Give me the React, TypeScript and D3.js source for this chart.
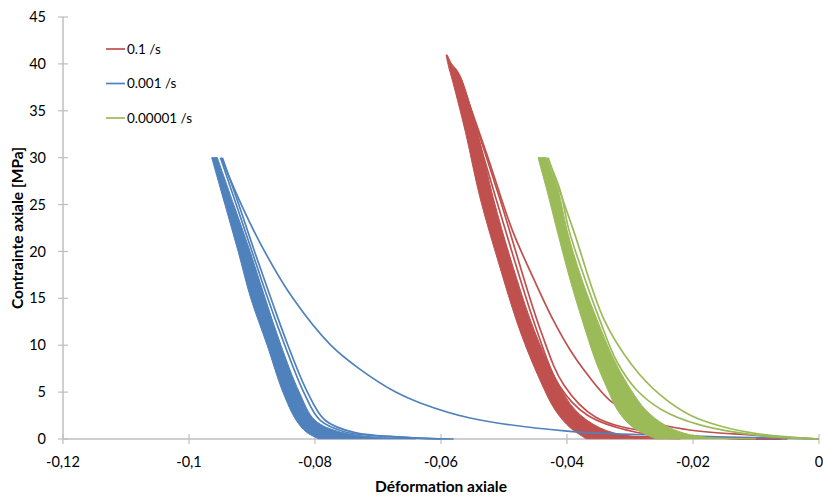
import React from "react";
import * as d3 from "d3";

// ---------- data (strain, stress in MPa) ----------
const xTicks = [-0.12, -0.1, -0.08, -0.06, -0.04, -0.02, 0];
const xTickLabels = ["-0,12", "-0,1", "-0,08", "-0,06", "-0,04", "-0,02", "0"];
const yTicks = [0, 5, 10, 15, 20, 25, 30, 35, 40, 45];
const yTickLabels = ["0", "5", "10", "15", "20", "25", "30", "35", "40", "45"];

const seriesNames = ["0.1 /s", "0.001 /s", "0.00001 /s"];
const seriesColors = ["#C0504D", "#4F81BD", "#9BBB59"];

// band of repeated cycles: [stress, left strain, right strain]
const redBand: [number, number, number][] = [
  [40.95, -0.0592, -0.059],
  [40.0, -0.0589, -0.0583],
  [39.45, -0.0587, -0.0576],
  [38.5, -0.0583, -0.0568],
  [32.95, -0.0562, -0.0543],
  [25.7, -0.0538, -0.0517],
  [19.1, -0.051, -0.0489],
  [11.6, -0.0475, -0.0452],
  [6.3, -0.0443, -0.0417],
  [3.1, -0.0419, -0.0387],
  [1.2, -0.0395, -0.0348],
  [0.3, -0.0376, -0.03],
  [0.03, -0.037, -0.022],
];
const redFirst: [number, number][] = [
  [-0.0567, 38.0], [-0.0527, 30.3], [-0.0487, 22.3], [-0.0452, 16.95], [-0.0422, 12.7],
  [-0.0395, 9.49], [-0.0373, 7.36], [-0.0329, 3.95], [-0.0276, 2.03], [-0.0205, 0.96],
  [-0.011, 0.43], [0, 0],
];
const redLineA: [number, number][] = [
  [-0.0568, 38.3], [-0.0513, 25.7], [-0.0448, 11.6], [-0.0413, 5.76], [-0.0368, 2.56],
  [-0.0292, 0.75], [-0.0195, 0.2], [-0.0062, 0.0],
];
const redLineB: [number, number][] = [
  [-0.0567, 38.1], [-0.0507, 25.7], [-0.0442, 11.6], [-0.0405, 5.76], [-0.0355, 2.35],
  [-0.0262, 0.64], [-0.0162, 0.12], [-0.005, 0.0],
];
const redTail: [number, number][] = [
  [-0.0372, 0.9], [-0.033, 0.45], [-0.026, 0.2], [-0.016, 0.08], [-0.006, 0.02],
];

const blueBand: [number, number, number][] = [
  [30, -0.0964, -0.0955],
  [25, -0.0943, -0.0929],
  [20, -0.0922, -0.0903],
  [15, -0.0902, -0.0879],
  [10, -0.0876, -0.0854],
  [5, -0.0851, -0.0825],
  [2, -0.083, -0.08],
  [0.75, -0.0814, -0.076],
  [0.2, -0.08, -0.0705],
  [0.03, -0.0795, -0.064],
];
const blueFirst: [number, number][] = [
  [-0.0949, 30.0], [-0.0917, 25.0], [-0.088, 20.0], [-0.0835, 15.0], [-0.0775, 10.0],
  [-0.073, 7.5], [-0.0672, 5.0], [-0.0633, 3.84], [-0.0554, 2.24], [-0.04, 0.85],
  [-0.0263, 0.43], [0, 0],
];
const blueLineA: [number, number][] = [
  [-0.095, 30], [-0.0925, 25], [-0.09, 20], [-0.0875, 15], [-0.0848, 10], [-0.0818, 5],
  [-0.0792, 2], [-0.0752, 0.75], [-0.0665, 0.2], [-0.0602, 0],
];
const blueLineB: [number, number][] = [
  [-0.0947, 30], [-0.0921, 25], [-0.0896, 20], [-0.087, 15], [-0.0843, 10], [-0.0812, 5],
  [-0.0784, 2], [-0.0738, 0.7], [-0.065, 0.15], [-0.058, 0],
];

const greenBand: [number, number, number][] = [
  [30, -0.0446, -0.0433],
  [26.55, -0.0432, -0.0414],
  [22.3, -0.0416, -0.04],
  [16.95, -0.0395, -0.0376],
  [12.7, -0.0376, -0.0352],
  [8.4, -0.0355, -0.0325],
  [5.2, -0.0335, -0.0298],
  [3.1, -0.032, -0.0275],
  [1.5, -0.03, -0.0245],
  [0.64, -0.028, -0.0215],
  [0.2, -0.0265, -0.018],
  [0.03, -0.026, -0.01],
];
const greenFirst: [number, number][] = [
  [-0.043, 30], [-0.039, 22.3], [-0.0341, 12.7], [-0.0297, 7.9], [-0.0252, 4.7],
  [-0.0205, 2.56], [-0.0157, 1.39], [-0.0094, 0.53], [0, 0],
];
const greenLine: [number, number][] = [
  [-0.0432, 30], [-0.0411, 26.55], [-0.0397, 22.3], [-0.0371, 16.95], [-0.0348, 12.7],
  [-0.0322, 8.4], [-0.0289, 5.2], [-0.0249, 3.1], [-0.0189, 1.5], [-0.0094, 0.37], [0, 0],
];

// ---------- layout ----------
const W = 823;
const H = 498;
const left = 63, right = 819, top = 17, bottom = 439;

export default function App() {
  const x = d3.scaleLinear().domain([-0.12, 0]).range([left, right]);
  const y = d3.scaleLinear().domain([0, 45]).range([bottom, top]);

  const line = d3
    .line<[number, number]>()
    .x((d) => x(d[0]))
    .y((d) => y(d[1]))
    .curve(d3.curveCatmullRom.alpha(0.5));
  const area = d3
    .area<[number, number, number]>()
    .y((d) => y(d[0]))
    .x0((d) => x(d[1]))
    .x1((d) => x(d[2]))
    .curve(d3.curveCatmullRom.alpha(0.5));

  const series = [
    { band: redBand, lines: [redFirst, redLineA, redLineB, redTail], color: seriesColors[0] },
    { band: blueBand, lines: [blueFirst, blueLineA, blueLineB], color: seriesColors[1] },
    { band: greenBand, lines: [greenFirst, greenLine], color: seriesColors[2] },
  ];

  const font = "Lato, 'Open Sans', 'Liberation Sans', sans-serif";
  const axisColor = "#BFBFBF";

  return (
    <svg
      width={W}
      height={H}
      style={{ position: "absolute", left: 0, top: 0, background: "#fff" }}
      fontFamily={font}
    >
      {/* axes */}
      <line x1={left} x2={left} y1={top} y2={bottom} stroke={axisColor} strokeWidth={1.5} />
      <line x1={left} x2={right} y1={bottom} y2={bottom} stroke={axisColor} strokeWidth={1.5} />
      {yTicks.map((t, i) => (
        <g key={"y" + t}>
          <line x1={left - 5} x2={left + 5} y1={y(t)} y2={y(t)} stroke={axisColor} strokeWidth={1.2} />
          <text x={left - 17} y={y(t)} dy="0.35em" textAnchor="end" fontSize={14.5} fill="#000">
            {yTickLabels[i]}
          </text>
        </g>
      ))}
      {xTicks.map((t, i) => (
        <g key={"x" + t}>
          <line x1={x(t)} x2={x(t)} y1={bottom - 5} y2={bottom + 5} stroke={axisColor} strokeWidth={1.2} />
          <text x={x(t)} y={bottom + 23} dy="0.35em" textAnchor="middle" fontSize={14.5} fill="#000">
            {xTickLabels[i]}
          </text>
        </g>
      ))}
      <text x={441} y={487} dy="0.35em" textAnchor="middle" fontSize={15.5} fontWeight="bold">
        Déformation axiale
      </text>
      <text
        transform={`translate(18,228) rotate(-90)`}
        dy="0.35em"
        textAnchor="middle"
        fontSize={15.5}
        fontWeight="bold"
      >
        Contrainte axiale [MPa]
      </text>

      {/* series */}
      {series.map((s, i) => (
        <g key={i}>
          <path d={area(s.band) || ""} fill={s.color} stroke={s.color} strokeWidth={1} />
          {s.lines.map((l, j) => (
            <path key={j} d={line(l) || ""} fill="none" stroke={s.color} strokeWidth={1.7} />
          ))}
        </g>
      ))}

      {/* legend */}
      {seriesNames.map((n, i) => (
        <g key={n} transform={`translate(106, ${49 + i * 34.5})`}>
          <line x1={0} x2={19} y1={0} y2={0} stroke={seriesColors[i]} strokeWidth={1.7} />
          <text x={21} y={0} dy="0.35em" fontSize={13.5} fill="#000">
            {n}
          </text>
        </g>
      ))}
    </svg>
  );
}
